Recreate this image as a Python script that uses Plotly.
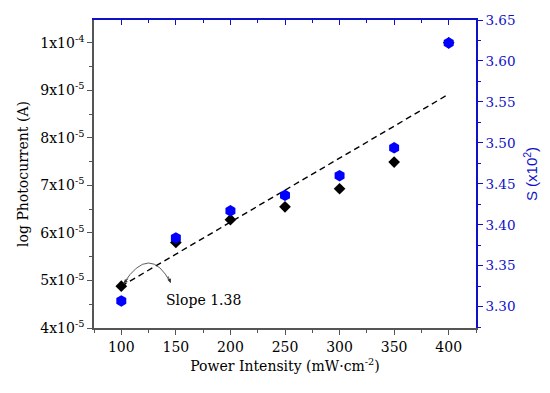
import plotly.graph_objects as go

power = [100, 150, 200, 250, 300, 350, 400]
photocurrent = [4.88e-5, 5.80e-5, 6.28e-5, 6.55e-5, 6.93e-5, 7.49e-5, 1.0e-4]
s_values = [3.307, 3.384, 3.417, 3.436, 3.460, 3.494, 3.622]
fit_x = [100, 400]
fit_y = [4.88e-5, 8.92e-5]
left_tickvals = [4e-5, 5e-5, 6e-5, 7e-5, 8e-5, 9e-5, 1e-4]
left_ticktext = ["4x10<sup>-5</sup>", "5x10<sup>-5</sup>", "6x10<sup>-5</sup>", "7x10<sup>-5</sup>",
                 "8x10<sup>-5</sup>", "9x10<sup>-5</sup>", "1x10<sup>-4</sup>"]

BLUE = "#0000ff"
AXBLUE = "#1010c8"
GRAY = "#555555"
SERIF = "DejaVu Serif"

fig = go.Figure()
fig.add_trace(go.Scatter(x=fit_x, y=fit_y, mode="lines",
                         line=dict(color="black", width=1.4, dash="6px,4px"),
                         showlegend=False, hoverinfo="skip"))
fig.add_trace(go.Scatter(x=power, y=photocurrent, mode="markers",
                         marker=dict(symbol="diamond", size=9, color="black"),
                         showlegend=False))
fig.add_trace(go.Scatter(x=power, y=s_values, mode="markers", yaxis="y2",
                         marker=dict(symbol="hexagon", size=11.5, color=BLUE),
                         showlegend=False))
# helper trace so the top (mirror) axis is drawn
fig.add_trace(go.Scatter(x=power[:1], y=photocurrent[:1], xaxis="x2", yaxis="y",
                         mode="markers", marker=dict(opacity=0), showlegend=False,
                         hoverinfo="skip"))

# curved double arrow
fig.add_shape(type="path", xref="x", yref="y",
              path="M 102.1,0.0000494 Q 126.2,0.0000579 145.2,0.0000495",
              line=dict(color="#333333", width=0.8))
fig.add_annotation(x=102.1, y=4.94e-5, ax=6, ay=-6, text="", showarrow=True,
                   arrowhead=2, arrowsize=1, arrowwidth=0.8, arrowcolor="#333333")
fig.add_annotation(x=145.2, y=4.95e-5, ax=-3, ay=-8, text="", showarrow=True,
                   arrowhead=2, arrowsize=1, arrowwidth=0.8, arrowcolor="#333333")
fig.add_annotation(x=175.5, y=4.59e-5, text="Slope 1.38", showarrow=False,
                   font=dict(family=SERIF, size=14, color="black"))

# the page body adds an 8px margin, so the figure is 8px smaller and margins shifted
fig.update_layout(
    width=542, height=385,
    margin=dict(l=86, r=74, t=12, b=65),
    plot_bgcolor="white", paper_bgcolor="white",
    font=dict(family=SERIF, size=14, color="black"),
    xaxis=dict(range=[75, 425], tick0=100, dtick=50, tickmode="linear", automargin=False,
               showgrid=False, zeroline=False, showline=True, linecolor=GRAY, linewidth=1.5,
               ticks="outside", ticklen=5, tickcolor=GRAY,
               minor=dict(ticks="outside", ticklen=3, tickmode="linear", tick0=75, dtick=25, tickcolor=GRAY),
               title=dict(text="Power Intensity (mW·cm<sup>-2</sup>)", standoff=8,
                          font=dict(family=SERIF, size=14)),
               tickfont=dict(family=SERIF, size=14)),
    xaxis2=dict(range=[75, 425], overlaying="x", side="top", anchor="y", tick0=100, dtick=50,
                tickmode="linear", showticklabels=False, showgrid=False, zeroline=False,
                showline=True, linecolor=AXBLUE, linewidth=1.5, ticks="inside", ticklen=5,
                tickcolor=AXBLUE, automargin=False,
                minor=dict(ticks="inside", ticklen=3, tickmode="linear", tick0=75, dtick=25, tickcolor=AXBLUE)),
    yaxis=dict(range=[4e-5, 1.048e-4], tickmode="array", tickvals=left_tickvals, ticktext=left_ticktext,
               showgrid=False, zeroline=False, showline=True, linecolor=GRAY, linewidth=1.5,
               ticks="outside", ticklen=5, tickcolor=GRAY, automargin=False,
               minor=dict(ticks="outside", ticklen=3, tickmode="linear", tick0=4e-5, dtick=5e-6, tickcolor=GRAY),
               title=dict(text="log Photocurrent (A)", standoff=8, font=dict(family=SERIF, size=14)),
               tickfont=dict(family=SERIF, size=14)),
    yaxis2=dict(range=[3.274, 3.65], overlaying="y", side="right", tickmode="linear", tick0=3.30,
                dtick=0.05, tickformat=".2f", showgrid=False, zeroline=False, showline=True,
                linecolor=AXBLUE, linewidth=1.5, ticks="outside", ticklen=5, tickcolor=AXBLUE,
                automargin=False,
                minor=dict(ticks="outside", ticklen=3, tickmode="linear", tick0=3.275, dtick=0.025, tickcolor=AXBLUE),
                tickfont=dict(family=SERIF, size=13.5, color=AXBLUE),
                title=dict(text="S (x10<sup>2</sup>)", standoff=12,
                           font=dict(family="Liberation Sans", size=15, color=AXBLUE))),
)

fig.write_html("out.html")
